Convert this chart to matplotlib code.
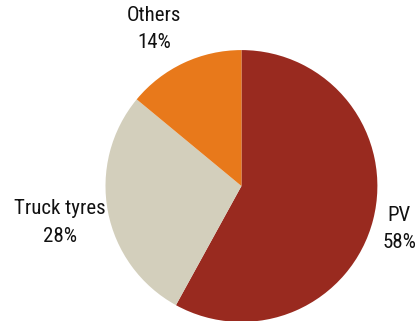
import matplotlib
matplotlib.use("Agg")
import matplotlib.pyplot as plt
from matplotlib import font_manager

# market split by segment
segments = ["PV", "Truck tyres", "Others"]
shares = [58, 28, 14]
colors = ["#992A1F", "#D3CFBC", "#E8791B"]

names = {f.name for f in font_manager.fontManager.ttflist}
wanted = ["Roboto Condensed", "Archivo Narrow", "Barlow Condensed", "Asap Condensed"]
fam = next((n for n in wanted if n in names), "DejaVu Sans")
plt.rcParams["font.family"] = [fam, "DejaVu Sans"]

fig = plt.figure(figsize=(4.17, 3.21), dpi=100)
ax = fig.add_axes([0.253, -0.003, 0.652, 0.847])
ax.pie(shares, colors=colors, startangle=90, counterclock=False, radius=1.0,
       wedgeprops=dict(linewidth=0))
ax.set_xlim(-1, 1)
ax.set_ylim(-1, 1)
ax.axis("off")

# labels sit outside the pie, placed in figure pixels
label_pos = {"PV": (399, 229), "Truck tyres": (59.5, 222.5), "Others": (154, 29)}
for name, val in zip(segments, shares):
    x, y = label_pos[name]
    fig.text(x / 417, 1 - y / 321, f"{name}\n{val}%", ha="center", va="center",
             fontsize=15, linespacing=1.55, color="#111111")

fig.savefig("out.png", dpi=100)
